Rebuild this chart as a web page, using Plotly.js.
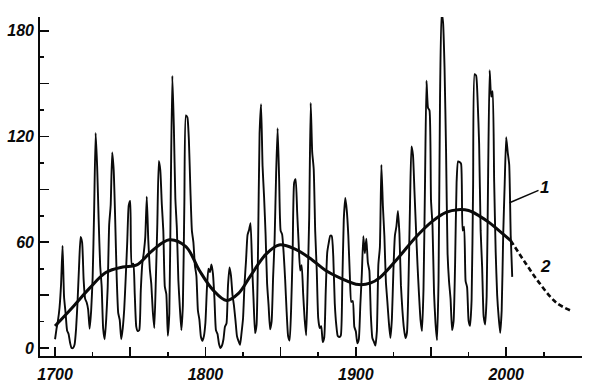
<!DOCTYPE html>
<html>
<head>
<meta charset="utf-8">
<script src="https://cdn.plot.ly/plotly-3.0.1.min.js"></script>
<style>html,body{margin:0;padding:0;background:#fff;}#chart{width:600px;height:387px;}</style>
</head>
<body>
<div id="chart"></div>
<script>
// Yearly sunspot numbers (curve 1)
var spotYears = [];
for (var y = 1700; y <= 2004; y++) spotYears.push(y);
var spotValues = [
5,11,16,23,36,58,29,20,10,8,3,0,0,2,11,27,47,63,60,39,
28,26,22,11,21,40,78,122,103,73,47,35,11,5,16,34,70,81,111,101,
73,40,20,16,5,11,22,40,60,80.9,83.4,47.7,47.8,30.7,12.2,9.6,10.2,32.4,47.6,54.0,
62.9,85.9,61.2,45.1,36.4,20.9,11.4,37.8,69.8,106.1,100.8,81.6,66.5,34.8,30.6,7.0,19.8,92.5,154.4,125.9,
84.8,68.1,38.5,22.8,10.2,24.1,82.9,132.0,130.9,118.1,89.9,66.6,60.0,46.9,41.0,21.3,16.0,6.4,4.1,6.8,
14.5,34.0,45.0,43.1,47.5,42.2,28.1,10.1,8.1,2.5,0.0,1.4,5.0,12.2,13.9,35.4,45.8,41.1,30.1,23.9,
15.6,6.6,4.0,1.8,8.5,16.6,36.3,49.6,64.2,67.0,70.9,47.8,27.5,8.5,13.2,56.9,121.5,138.3,103.2,85.7,
64.6,36.7,24.2,10.7,15.0,40.1,61.5,98.5,124.7,96.3,66.6,64.5,54.1,39.0,20.6,6.7,4.3,22.7,54.8,93.8,
95.8,77.2,59.1,44.0,47.0,30.5,16.3,7.3,37.6,74.0,139.0,111.2,101.6,66.2,44.7,17.0,11.3,12.4,3.4,6.0,
32.3,54.3,59.7,63.7,63.5,52.2,25.4,13.1,6.8,6.3,7.1,35.6,73.0,85.1,78.0,64.0,41.8,26.2,26.7,12.1,
9.5,2.7,5.0,24.4,42.0,63.5,53.8,62.0,48.5,43.9,18.6,5.7,3.6,1.4,9.6,47.4,57.1,103.9,80.6,63.6,
37.6,26.1,14.2,5.8,16.7,44.3,63.9,69.0,77.8,64.9,35.7,21.2,11.1,5.7,8.7,36.1,79.7,114.4,109.6,88.8,
67.8,47.5,30.6,16.3,9.6,33.2,92.6,151.6,136.3,134.7,83.9,69.4,31.5,13.9,4.4,38.0,141.7,190.2,184.8,159.0,
112.3,53.9,37.6,27.9,10.2,15.1,47.0,93.8,105.9,105.5,104.5,66.6,68.9,38.0,34.5,15.5,12.6,27.5,92.5,155.4,
154.6,140.4,115.9,66.6,45.9,17.9,13.4,29.4,100.2,157.6,142.6,145.7,94.3,54.6,29.9,17.5,8.6,21.5,64.3,93.3,
119.6,111.0,104.0,63.7,40.4
];

// Smoothed secular curve (curve 2), solid part
var smoothYears  = [1700,1712,1723,1734,1745,1754,1765,1776,1787,1796,1805,1814,1822,1830,1840,1849,1860,1871,1880,1889,1902,1910,1916,1928,1940,1951,1960,1968,1975,1982,1989,1996,2003];
var smoothValues = [12.5,23.5,34,43,46,47,55.5,61.4,57.5,44,33,27,31,41,53,58.5,56,50,44,40,36,37,40,51,63,72,77,78.5,78,75,71,66,61];

// Forecast (dashed) part
var forecastYears  = [2003,2013,2022,2033,2043];
var forecastValues = [61,48,37,26,21.2];

// Axis ticks
var xTickVals = [1700,1750,1800,1850,1900,1950,2000,2050];
var xTickText = ['1700','','1800','','1900','','2000',''];
var yTickVals = [0,30,60,90,120,150,180];
var yTickText = ['0','','60','','120','','180'];

var ink = '#0a0a0a';
var tickFont = {family:'"Liberation Sans", Arial, sans-serif', size:16, color:ink, style:'italic', weight:'bold'};

var traces = [
  {x: spotYears, y: spotValues, type:'scatter', mode:'lines',
   line:{color:ink, width:1.9, shape:'spline', smoothing:0.5}, hoverinfo:'skip'},
  {x: smoothYears, y: smoothValues, type:'scatter', mode:'lines',
   line:{color:ink, width:3, shape:'spline', smoothing:1}, hoverinfo:'skip'},
  {x: forecastYears, y: forecastValues, type:'scatter', mode:'lines',
   line:{color:ink, width:2.6, shape:'spline', smoothing:1, dash:'5px,3px'}, hoverinfo:'skip'}
];

var layout = {
  width:600, height:387,
  margin:{l:40, r:18, t:17, b:31},
  paper_bgcolor:'#fff', plot_bgcolor:'#fff',
  showlegend:false,
  xaxis:{
    range:[1690, 2050.4], showgrid:false, zeroline:false,
    showline:true, linecolor:ink, linewidth:1.8,
    tickmode:'array', tickvals:xTickVals, ticktext:xTickText,
    ticks:'inside', ticklen:9, tickwidth:1.6, tickcolor:ink,
    tickfont:tickFont, ticklabelstandoff:3,
    minor:{tickmode:'linear', tick0:1700, dtick:25, ticks:'inside', ticklen:4, tickwidth:1.6, tickcolor:ink, showgrid:false}
  },
  yaxis:{
    range:[-4.5, 187.8], showgrid:false, zeroline:false,
    showline:true, linecolor:ink, linewidth:1.8,
    tickmode:'array', tickvals:yTickVals, ticktext:yTickText,
    ticks:'inside', ticklen:9, tickwidth:1.6, tickcolor:ink,
    tickfont:tickFont, ticklabelstandoff:1,
    minor:{tickmode:'linear', tick0:0, dtick:15, ticks:'inside', ticklen:4, tickwidth:1.6, tickcolor:ink, showgrid:false}
  },
  annotations:[
    {x:2002.2, y:82.4, xref:'x', yref:'y', text:'1', showarrow:true, arrowhead:0, arrowwidth:1.5, arrowcolor:ink,
     ax:35, ay:-15, standoff:0, font:{family:'"Liberation Sans", Arial, sans-serif', size:17, color:ink, style:'italic', weight:'bold'}},
    {x:2026.1, y:46, xref:'x', yref:'y', text:'2', showarrow:false,
     font:{family:'"Liberation Sans", Arial, sans-serif', size:17, color:ink, style:'italic', weight:'bold'}}
  ]
};

Plotly.newPlot('chart', traces, layout, {staticPlot:true, displayModeBar:false});
</script>
</body>
</html>
